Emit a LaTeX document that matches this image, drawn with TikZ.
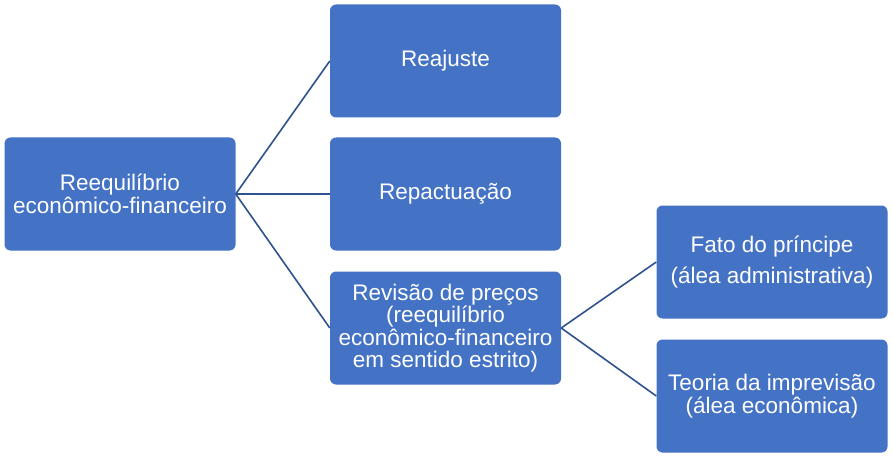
\documentclass[tikz,border=0pt]{standalone}
\usepackage{fontspec}
\setmainfont{Liberation Sans}
\usepackage{xcolor}
\definecolor{BoxBlue}{RGB}{68,114,196}
\definecolor{LineBlue}{RGB}{47,82,143}
\definecolor{White}{RGB}{255,255,255}
\usepackage{tikz}

\begin{document}
\begin{tikzpicture}[x=1pt, y=-1pt,
		box/.style={fill=BoxBlue, rounded corners=6pt, minimum width=231pt, minimum height=113pt, inner sep=0pt, align=center, text=White, font=\fontsize{22.5}{22.5}\selectfont},
		link/.style={draw=LineBlue, line width=1.6pt}]
		
		\useasboundingbox (0,0) rectangle (893,457);
		
		% Boxes
		\node[box] (reeq)  at (120,194)   {Reequilíbrio\\econômico-financeiro};
		\node[box] (reaj)  at (445.5,61)  {Reajuste};
		\node[box] (repac) at (445.5,194) {Repactuação};
		\node[box] (rev)   at (445.5,328) {Revisão de preços\\(reequilíbrio\\econômico-financeiro\\em sentido estrito)};
		\node[box] (fato)  at (772,262)   {Fato do príncipe\\[9pt](álea administrativa)};
		\node[box] (teor)  at (772,396)   {Teoria da imprevisão\\(álea econômica)};
		
		% Links
		\draw[link] (reeq.east) -- (reaj.west);
		\draw[link] (reeq.east) -- (repac.west);
		\draw[link] (reeq.east) -- (rev.west);
		\draw[link] (rev.east) -- (fato.west);
		\draw[link] (rev.east) -- (teor.west);
		
	\end{tikzpicture}
\end{document}
